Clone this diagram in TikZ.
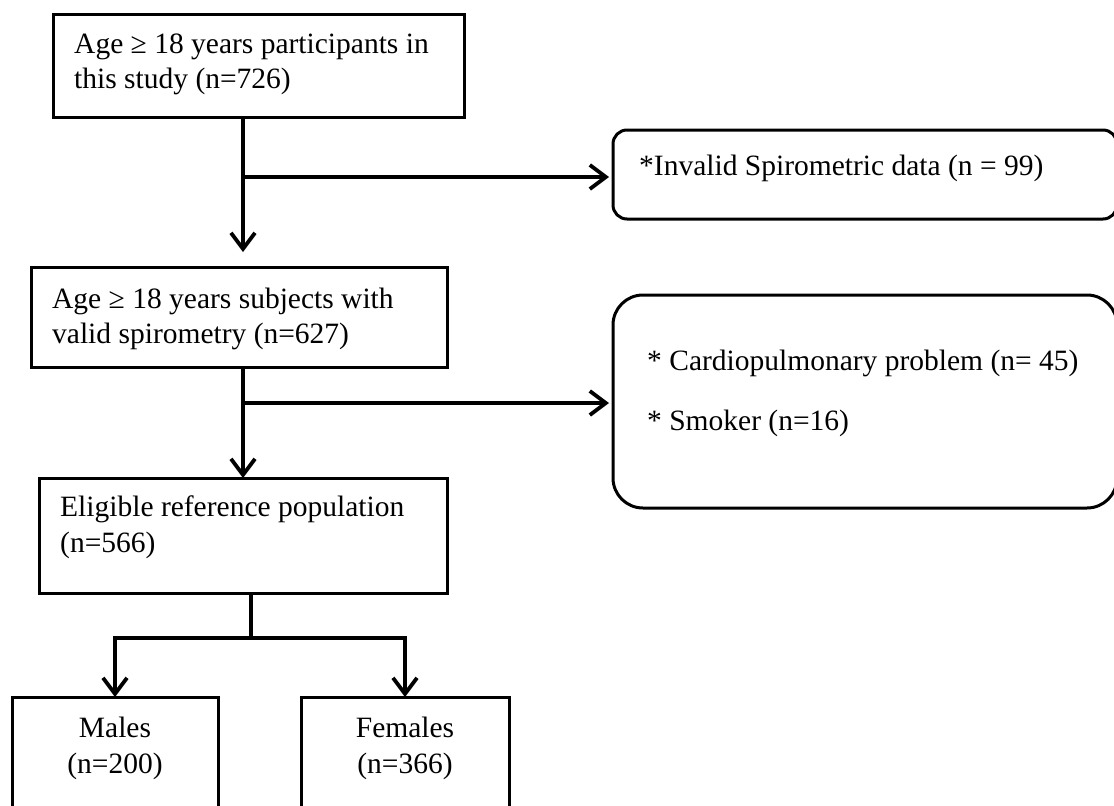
\documentclass[tikz,border=0pt]{standalone}
\usepackage{fontspec}
\setmainfont{Liberation Serif}
\usetikzlibrary{arrows.meta}
\begin{document}
\begin{tikzpicture}[x=1pt,y=-1pt,
  box/.style={draw, line width=3pt, inner sep=0pt, outer sep=0pt, anchor=north west},
  rbox/.style={box, rounded corners=#1},
  txt/.style={anchor=base west, inner sep=0pt, font=\fontsize{29.5}{35.5}\selectfont},
  ctxt/.style={anchor=base, inner sep=0pt, font=\fontsize{29.5}{35.5}\selectfont},
  barb/.tip={Straight Barb[length=16pt,width=24pt,line width=3.8pt]},
  conn/.style={line width=3.8pt, -barb},
  plainline/.style={line width=3.8pt}]
\useasboundingbox (0,0) rectangle (1114,806);

% boxes
\node[box, minimum width=411pt, minimum height=103pt] (b1) at (53,14) {};
\node[box, minimum width=416pt, minimum height=100pt] (b2) at (31,267) {};
\node[box, minimum width=408pt, minimum height=115pt] (b3) at (39,478) {};
\node[box, minimum width=206pt, minimum height=140pt] (m) at (12,697) {};
\node[box, minimum width=208pt, minimum height=140pt] (f) at (301,697) {};
\node[rbox=14pt, minimum width=504pt, minimum height=89pt] (r1) at (613,130) {};
\node[rbox=30pt, minimum width=504pt, minimum height=213pt] (r2) at (613,295) {};

% texts
\node[txt] (t1a) at (74,53) {Age ≥ 18 years participants in};
\node[txt] (t1b) at (74,88) {this study (n=726)};
\node[txt] (t2a) at (52,308) {Age ≥ 18 years subjects with};
\node[txt] (t2b) at (52,343) {valid spirometry (n=627)};
\node[txt] (t3a) at (60,516) {Eligible reference population};
\node[txt] (t3b) at (60,552) {(n=566)};
\node[ctxt] (tma) at (115,737) {Males};
\node[ctxt] (tmb) at (115,773) {(n=200)};
\node[ctxt] (tfa) at (405,737) {Females};
\node[ctxt] (tfb) at (405,773) {(n=366)};
\node[txt] (tr1) at (639,175) {*Invalid Spirometric data (n = 99)};
\node[txt] (tr2a) at (647,370) {* Cardiopulmonary problem (n= 45)};
\node[txt] (tr2b) at (647,430) {* Smoker (n=16)};

% junctions
\coordinate (j1) at (243,177);
\coordinate (j2) at (243,403);
\coordinate (j3) at (251,638);

% connectors
\draw[conn] (j1 |- b1.south) -- ([yshift=15pt]j1 |- b2.north);
\draw[conn] (j1) -- ([xshift=-4pt]j1 -| r1.west);
\draw[conn] (j2 |- b2.south) -- (j2 |- b3.north);
\draw[conn] (j2) -- ([xshift=-4pt]j2 -| r2.west);
\draw[plainline] (j3 |- b3.south) -- (j3);
\draw[line width=3.8pt, barb-barb] (m.north) -- (m.north |- j3) -- (f.north |- j3) -- (f.north);
\end{tikzpicture}
\end{document}
